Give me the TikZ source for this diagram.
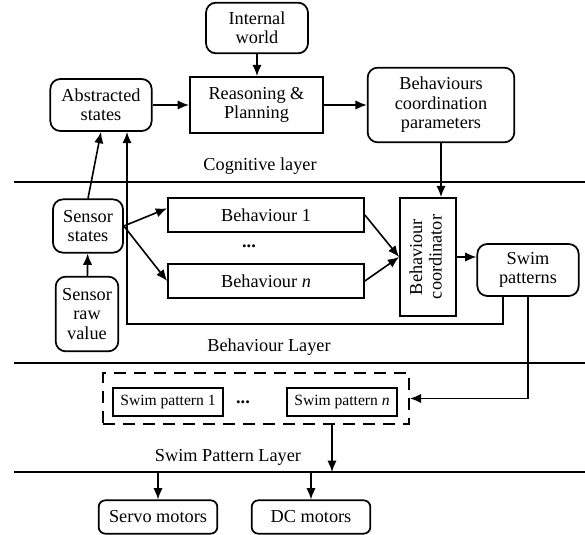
\documentclass[tikz,border=0pt]{standalone}
\usepackage{fontspec}
\setmainfont{Liberation Serif}
\usepackage{tikz}
\usetikzlibrary{arrows.meta,positioning}

\begin{document}
\begin{tikzpicture}[
x=0.75pt, y=-0.75pt,
font=\fontsize{13.7}{14.6}\selectfont,
block/.style={draw, line width=1.3pt, align=center, inner sep=0pt},
rblock/.style={block, rounded corners=7.5pt},
small/.style={block, font=\fontsize{11.7}{13}\selectfont, minimum width=82pt, minimum height=21pt},
motor/.style={rblock, rounded corners=5pt, minimum width=89pt, minimum height=25pt},
link/.style={-{Latex[length=8.5pt,width=7pt]}, line width=1.2pt},
layer/.style={line width=1.2pt}
]
    \useasboundingbox (0,0) rectangle (585,535);

    % Layer borders
    \coordinate (l1w) at (14,182);  \coordinate (l1e) at (585,182);
    \coordinate (l2w) at (14,363);  \coordinate (l2e) at (585,363);
    \coordinate (l3w) at (14,472);  \coordinate (l3e) at (585,472);
    \draw[layer] (l1w) -- (l1e);
    \draw[layer] (l2w) -- (l2e);
    \draw[layer] (l3w) -- (l3e);

    % Cognitive layer
    \node[rblock, minimum width=76.5pt, minimum height=38pt] (world) at (257,28) {Internal\\world};
    \node[block, minimum width=100pt, minimum height=42pt] (plan) at (256.5,105) {Reasoning \&\\Planning};
    \node[rblock, minimum width=76pt, minimum height=39pt] (abs) at (101,105) {Abstracted\\states};
    \node[rblock, minimum width=110pt, minimum height=56pt] (param) at (441,105) {Behaviours\\coordination\\parameters};
    \node (cogl) at (260,166) {Cognitive layer};

    % Behaviour layer
    \node[rblock, minimum width=52.5pt, minimum height=40pt] (sens) at (88,226) {Sensor\\states};
    \node[rblock, minimum width=47pt, minimum height=56pt] (raw) at (87,314) {Sensor\\raw\\value};
    \node[block, minimum width=147pt, minimum height=25.5pt] (beh1) at (266,215) {Behaviour 1};
    \node (dots1) at (249,246) {\textbf{...}};
    \node[block, minimum width=147pt, minimum height=25.5pt] (behn) at (266,281) {Behaviour \textit{n}};
    \node[block, minimum width=42pt, minimum height=88.5pt] (coord) at (428,257)
        {\rotatebox{90}{\begin{tabular}{@{}c@{}}Behaviour\\coordinator\end{tabular}}};
    \node[rblock, minimum width=76pt, minimum height=39pt] (swim) at (528,270) {Swim\\patterns};
    \node (behl) at (269,347) {Behaviour Layer};

    % Swim pattern layer
    \node[block, dash pattern=on 9pt off 6pt, minimum width=229.5pt, minimum height=38pt] (pool) at (256,398.5) {};
    \node[small] (sp1) at (168,402) {Swim pattern 1};
    \node (dots2) at (243,402) {\textbf{...}};
    \node[small] (spn) at (342,402) {Swim pattern \textit{n}};
    \node (spl) at (228,457) {Swim Pattern Layer};

    % Actuators
    \node[motor] (servo) at (158,517) {Servo motors};
    \node[motor] (dc) at (311,517) {DC motors};

    % Connections
    \draw[link] (world.south) -- (world.south |- plan.north);
    \draw[link] (abs) -- (plan);
    \draw[link] (plan) -- (param);
    \draw[link] (param.south) -- (param.south |- coord.north);
    \draw[link] (raw) -- (sens);
    \draw[link] (sens.north) -- (abs.south);
    \draw[link] (sens.east) -- ([yshift=5pt]beh1.west);
    \draw[link] (sens.east) -- (behn.west);
    \draw[link] (beh1.east) -- (coord.west);
    \draw[link] (behn.east) -- (coord.west);
    \draw[link] (coord.east) -- (coord.east -| swim.west);

    \coordinate (fb) at (127,324);
    \draw[link] ([xshift=-18.75pt]swim.south) |- (fb) -- (fb |- abs.south);
    \draw[link] (swim.south) |- (pool.east);

    \coordinate (out) at (332,472);
    \draw[link] (out |- pool.south) -- (out);
    \draw[link] (servo.north |- l3w) -- (servo);
    \draw[link] (dc.north |- l3w) -- (dc);

\end{tikzpicture}
\end{document}
